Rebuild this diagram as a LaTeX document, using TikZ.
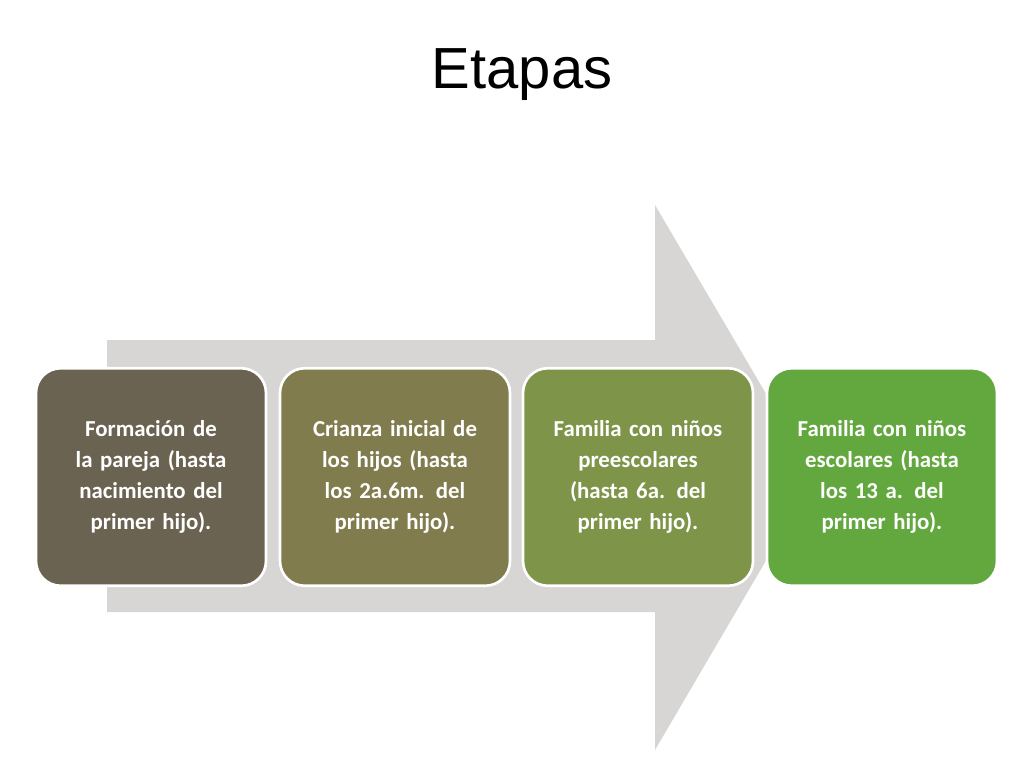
\documentclass[tikz,border=0pt]{standalone}
\usepackage{fontspec}
\setmainfont{Carlito}
\newfontfamily\titlefont{Liberation Sans}
\definecolor{arrowgray}{HTML}{D7D6D5}
\definecolor{stageA}{HTML}{6B6352}
\definecolor{stageB}{HTML}{807C4E}
\definecolor{stageC}{HTML}{7E9448}
\definecolor{stageD}{HTML}{62A83E}
\tikzset{
  stagebox/.style={draw=white, line width=1.5pt, rounded corners=14pt,
    minimum width=4.6cm, minimum height=4.35cm, text width=3.9cm,
    align=center, text=white, font=\bfseries\fontsize{13}{17.5}\selectfont}
}
\begin{document}
\begin{tikzpicture}[x=0.02cm, y=-0.02cm]
        \useasboundingbox (0,0) rectangle (1024,768);
        % Background arrow
        \fill[arrowgray] (107,340) -- (655,340) -- (655,205) -- (815,477)
            -- (655,750) -- (655,612) -- (107,612) -- cycle;

        % Title
        \node (title) at (522,75) {\titlefont\fontsize{33}{40}\selectfont Etapas};

        % Stages
        \node[stagebox, fill=stageA] (formacion) at (151,477) {Formación de la pareja (hasta nacimiento del primer hijo).};
        \node[stagebox, fill=stageB] (crianza) at (395,477) {Crianza inicial de los hijos (hasta los 2a.6m. del primer hijo).};
        \node[stagebox, fill=stageC] (preescolar) at (638,477) {Familia con niños preescolares (hasta 6a. del primer hijo).};
        \node[stagebox, fill=stageD] (escolar) at (882,477) {Familia con niños escolares (hasta los 13 a. del primer hijo).};
\end{tikzpicture}
\end{document}
